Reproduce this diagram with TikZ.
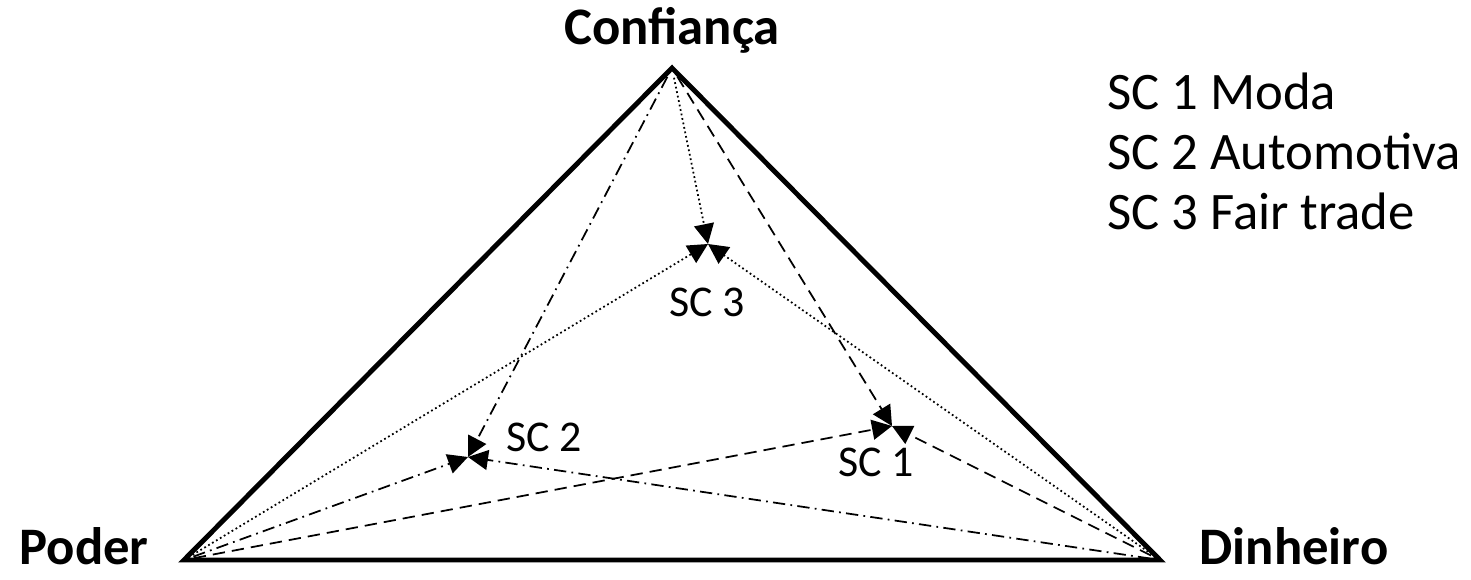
\documentclass[tikz,border=0pt]{standalone}
\usepackage{fontspec}
\setmainfont{Carlito}
\usetikzlibrary{arrows.meta}

\begin{document}
\begin{tikzpicture}[
  x=0.02cm, y=-0.02cm,
  font=\fontsize{25}{30}\selectfont,
  title/.style={font=\fontsize{30}{36}\selectfont\bfseries, anchor=base, inner sep=0pt},
  legend/.style={font=\fontsize{30}{36}\selectfont, anchor=base west, inner sep=0pt},
  edge/.style={line width=2.8pt, line join=miter},
  link/.style={-{Triangle[length=4mm, width=4mm]}, line width=1pt, shorten <=2mm},
  sconea/.style={link, dash pattern=on 7pt off 4pt},
  sctwo/.style={link, dash pattern=on 7pt off 3pt on 1pt off 3pt},
  scthree/.style={link, dash pattern=on 1pt off 1.6pt}
]
\useasboundingbox (0,0) rectangle (1471,580);
% vertices
\coordinate (conf) at (672,68);
\coordinate (poder) at (184,560);
\coordinate (dinh) at (1160,560);
\draw[edge] (conf) -- (dinh) -- (poder) -- cycle;
\node[title] (tconf) at (672,45) {Confiança};
\node[title] (tpoder) at (84,565) {Poder};
\node[title] (tdinh) at (1294,565) {Dinheiro};
% supply chains
\coordinate (sc1) at (892,426);
\coordinate (sc2) at (468,457);
\coordinate (sc3) at (708,244);
\node (l1) at (876,462) {SC 1};
\node (l2) at (544,437) {SC 2};
\node (l3) at (707,302) {SC 3};
\foreach \v in {conf,poder,dinh} {
  \draw[sconea] (\v) -- (sc1);
  \draw[sctwo] (\v) -- (sc2);
  \draw[scthree] (\v) -- (sc3);
}
% legend
\node[legend] (m1) at (1107,110) {SC 1 Moda};
\node[legend] (m2) at (1107,170) {SC 2 Automotiva};
\node[legend] (m3) at (1107,230) {SC 3 Fair trade};
\end{tikzpicture}
\end{document}
